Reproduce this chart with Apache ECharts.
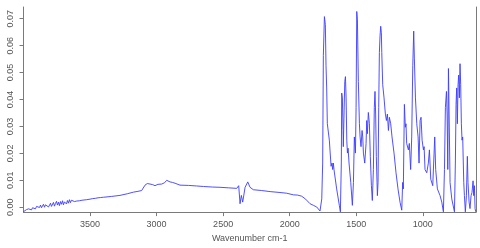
<!DOCTYPE html>
<html>
<head>
<meta charset="utf-8">
<script src="https://cdn.jsdelivr.net/npm/echarts@6/dist/echarts.min.js"></script>
<style>html,body{margin:0;padding:0;background:#fff;}#c{width:480px;height:248px;}</style>
</head>
<body>
<div id="c"></div>
<script>
var wavenumbers = [4001,3993,3986,3978,3970,3962,3955,3947,3940,3932,3925,3917,3910,3902,3895,3887,3880,3872,3865,3857,3850,3842,3835,3827,3820,3812,3805,3797,3790,3782,3775,3767,3760,3752,3745,3737,3730,3722,3715,3707,3700,3692,3685,3677,3670,3662,3655,3647,3640,3632,3625,3617,3610,3600,3590,3580,3570,3560,3545,3525,3500,3480,3460,3440,3420,3400,3340,3275,3220,3174,3140,3112,3087,3070,3049,3030,3012,2990,2962,2940,2924,2910,2899,2880,2861,2824,2760,2700,2648,2580,2523,2460,2398,2383,2373,2363,2353,2335,2315,2298,2273,2210,2147,2080,2022,1972,1940,1910,1880,1847,1822,1797,1772,1759,1752,1747,1739,1732,1727,1722,1717,1702,1689,1682,1677,1672,1667,1647,1627,1619,1612,1609,1604,1599,1597,1591,1586,1581,1576,1571,1566,1561,1554,1541,1529,1521,1514,1506,1501,1496,1491,1484,1476,1471,1464,1456,1451,1446,1436,1426,1421,1416,1409,1401,1394,1386,1379,1371,1364,1359,1354,1349,1341,1336,1331,1326,1321,1316,1311,1308,1301,1291,1281,1273,1266,1258,1251,1241,1231,1216,1201,1186,1171,1158,1151,1146,1138,1131,1126,1121,1108,1101,1091,1083,1075,1068,1063,1055,1045,1035,1028,1020,1013,1005,995,990,983,970,958,950,940,925,910,903,890,870,857,845,837,830,822,817,812,807,802,795,782,762,755,750,745,740,735,730,725,720,715,710,705,700,692,687,680,672,665,660,652,645,637,630,622,617,612,607,602];
var absorbance = [-0.0017,-0.0012,-0.0015,-0.0009,-0.0013,-0.0006,-0.0011,-0.0003,-0.0010,-0.0002,-0.0008,0.0001,-0.0006,0.0003,-0.0004,0.0006,-0.0001,0.0008,-0.0002,0.0005,0.0011,0.0000,0.0009,0.0002,0.0013,0.0001,0.0007,0.0015,0.0003,0.0010,0.0018,0.0004,0.0014,0.0022,0.0008,0.0019,0.0006,0.0021,0.0011,0.0024,0.0009,0.0020,0.0027,0.0012,0.0025,0.0015,0.0028,0.0017,0.0026,0.0019,0.0029,0.0021,0.0027,0.0023,0.0028,0.0024,0.0029,0.0026,0.0030,0.0028,0.0030,0.0032,0.0033,0.0035,0.0036,0.0037,0.0040,0.0044,0.0050,0.0056,0.0059,0.0062,0.0082,0.0088,0.0086,0.0084,0.0080,0.0085,0.0086,0.0091,0.0100,0.0095,0.0094,0.0092,0.0089,0.0082,0.0081,0.0079,0.0077,0.0075,0.0074,0.0072,0.0070,0.0080,0.0013,0.0044,0.0019,0.0074,0.0094,0.0074,0.0065,0.0062,0.0058,0.0055,0.0052,0.0046,0.0045,0.0041,0.0030,0.0013,0.0007,0.0001,-0.0014,0.0031,0.0164,0.0563,0.0708,0.0678,0.0527,0.0443,0.0310,0.0249,0.0152,0.0164,0.0140,0.0164,0.0140,0.0068,0.0007,-0.0017,0.0164,0.0424,0.0406,0.0285,0.0225,0.0358,0.0467,0.0485,0.0406,0.0249,0.0201,0.0219,0.0164,0.0092,0.0007,0.0092,0.0261,0.0201,0.0370,0.0727,0.0696,0.0467,0.0310,0.0261,0.0225,0.0285,0.0261,0.0201,0.0164,0.0237,0.0322,0.0273,0.0352,0.0310,0.0189,0.0080,0.0025,0.0140,0.0370,0.0430,0.0346,0.0189,0.0043,0.0092,0.0370,0.0575,0.0636,0.0672,0.0648,0.0575,0.0455,0.0406,0.0346,0.0322,0.0346,0.0285,0.0334,0.0310,0.0261,0.0201,0.0128,0.0068,0.0019,-0.0011,0.0092,0.0068,0.0382,0.0297,0.0310,0.0237,0.0213,0.0237,0.0140,0.0261,0.0527,0.0654,0.0551,0.0406,0.0310,0.0261,0.0164,0.0322,0.0334,0.0249,0.0213,0.0225,0.0140,0.0128,0.0164,0.0213,0.0104,0.0080,0.0261,0.0140,0.0068,0.0043,0.0019,-0.0017,0.0140,0.0370,0.0430,0.0346,0.0140,0.0515,0.0346,0.0092,0.0031,-0.0017,0.0164,0.0382,0.0443,0.0310,0.0455,0.0491,0.0406,0.0533,0.0455,0.0310,0.0249,0.0261,0.0092,0.0043,-0.0017,0.0043,0.0189,0.0092,0.0019,-0.0005,0.0043,0.0055,0.0098,0.0043,0.0080,-0.0005,-0.0017];
var xTicks = [1000,1500,2000,2500,3000,3500];
var yTicks = [0,0.01,0.02,0.03,0.04,0.05,0.06,0.07];
var xTitle = 'Wavenumber cm-1';

var pts = wavenumbers.map(function(w,i){return [w, absorbance[i]];});
var chart = echarts.init(document.getElementById('c'), null, {renderer:'canvas'});
var gray = '#7a7a7a';
var font = 'Liberation Sans, Arial, sans-serif';
chart.setOption({
  animation:false,
  grid:{left:23.5, right:4, top:7, bottom:31, containLabel:false},
  xAxis:{
    type:'value', inverse:true, min:600, max:4000,
    name:xTitle, nameLocation:'middle', nameGap:19,
    nameTextStyle:{color:'#555', fontSize:9, fontFamily:font},
    axisLine:{show:true, onZero:false, lineStyle:{color:gray, width:1}},
    axisTick:{show:true, length:4, inside:false, customValues:xTicks, lineStyle:{color:gray}},
    axisLabel:{show:true, margin:8, customValues:xTicks, color:'#555', fontSize:9, fontFamily:font,
      formatter:function(v){return String(v);}},
    splitLine:{show:false}
  },
  yAxis:[{
    type:'value', min:-0.00181, max:0.07436, position:'left',
    axisLine:{show:true, onZero:false, lineStyle:{color:gray, width:1}},
    axisTick:{show:true, length:4, customValues:yTicks, lineStyle:{color:gray}},
    axisLabel:{show:true, rotate:90, margin:8, customValues:yTicks, color:'#555', fontSize:9, fontFamily:font,
      formatter:function(v){return v.toFixed(2);}},
    splitLine:{show:false}
  },{
    type:'value', min:-0.00181, max:0.07436, position:'right',
    axisLine:{show:true, onZero:false, lineStyle:{color:gray, width:1}},
    axisTick:{show:false}, axisLabel:{show:false}, splitLine:{show:false}
  }],
  series:[{
    type:'line', data:pts, showSymbol:false, symbol:'none',
    lineStyle:{color:'#3c3cff', width:0.9}, silent:true
  }]
});
</script>
</body>
</html>
